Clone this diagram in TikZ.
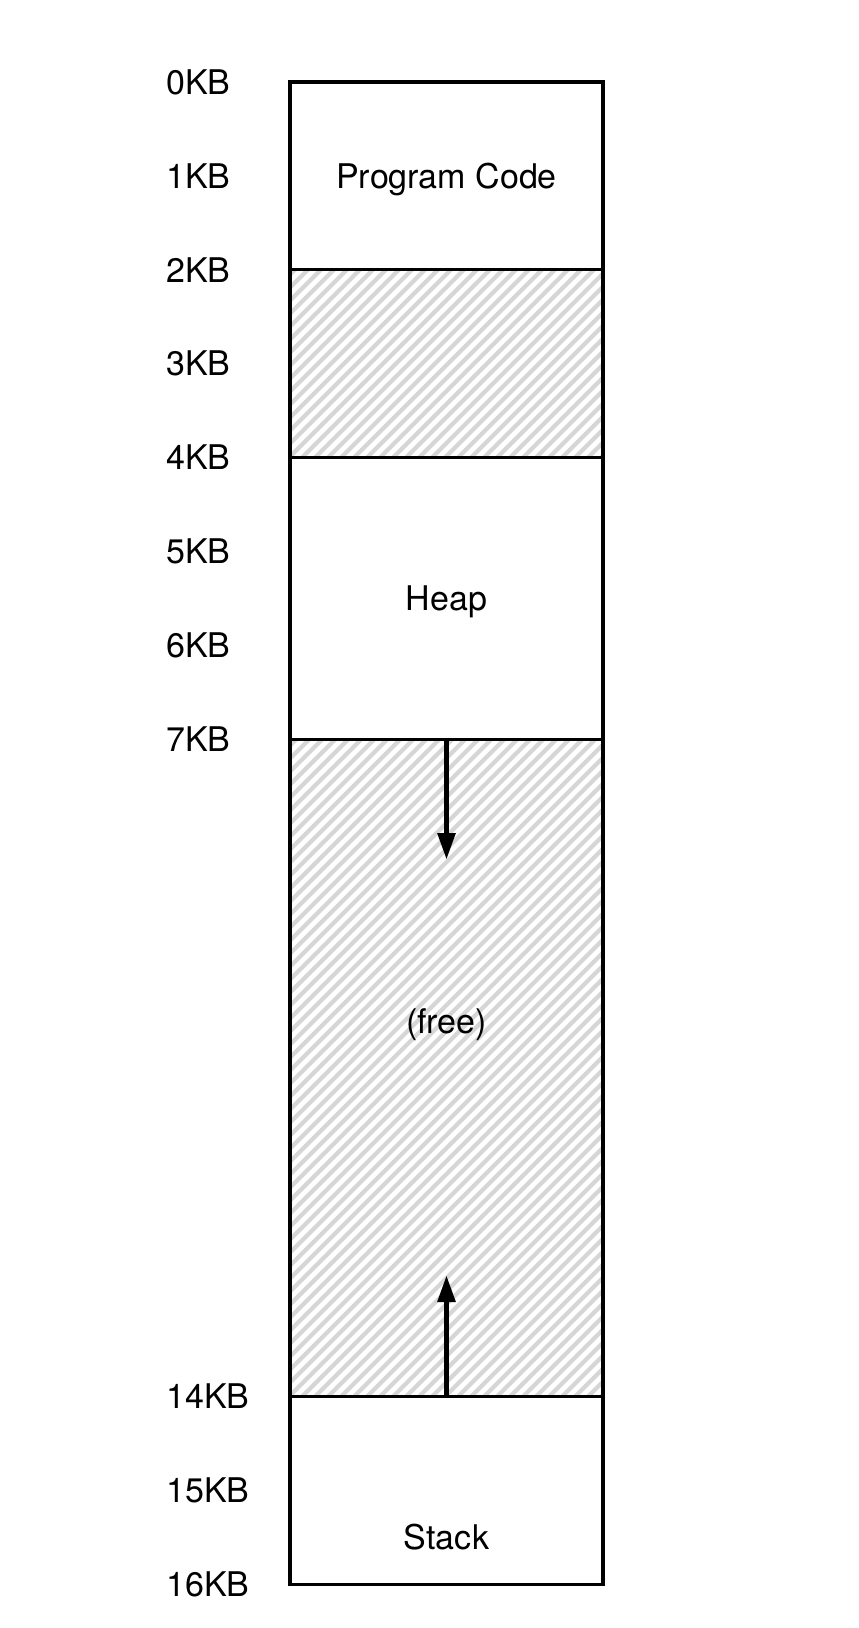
\documentclass[tikz,border=0pt]{standalone}
\usepackage{fontspec}
\newfontfamily\helv{TeX Gyre Heros}
\usetikzlibrary{arrows.meta}
\tikzset{
    kbtext/.style={inner sep=0pt, text height=12.2pt, text depth=0pt,
        font=\helv\fontsize{17}{20}\selectfont},
    kblabel/.style={kbtext, anchor=west},
    wall/.style={line width=1.65pt},
    hatchline/.style={line width=2.1pt, black!16},
    growarrow/.style={line width=2.8pt, -{Triangle[length=13.5pt,width=8.5pt]}}
}
\begin{document}
\begin{tikzpicture}[x=0.5pt,y=-0.5pt]
        \useasboundingbox (0,0) rectangle (858,1628);
        %% free regions
        \foreach \ya/\yb in {2/4,7/14}{
            \begin{scope}
                \clip (290,{82+\ya*93.9}) rectangle (603,{82+\yb*93.9});
                \foreach \d in {-700,-687,...,320}
                    \draw[hatchline] ({290+\d},{82+\yb*93.9+10}) -- ++(720,-720);
            \end{scope}
        }
        %% address space
        \draw[wall] (290,82) rectangle (603,{82+16*93.9});
        \foreach \k in {2,4,7,14}
            \draw[wall] (290,{82+\k*93.9}) -- (603,{82+\k*93.9});
        %% addresses
        \foreach \k in {0,1,2,3,4,5,6,7,14,15,16}
            \node[kblabel] (kb\k) at (166,{82+\k*93.9}) {\k KB};
        %% segments
        \node[kbtext] (code) at (446.5,{82+1*93.9}) {Program Code};
        \node[kbtext] (heap) at (446.5,{82+5.5*93.9}) {Heap};
        \node[kbtext] (free) at (446.5,{82+10*93.9}) {(free)};
        \node[kbtext] (stack) at (446.5,{82+15.5*93.9}) {Stack};
        %% growth
        \coordinate (heapend) at (446.5,{82+7*93.9});
        \coordinate (heaptip) at (446.5,860);
        \coordinate (stackend) at (446.5,{82+14*93.9});
        \coordinate (stacktip) at (446.5,1275);
        \draw[growarrow] (heapend) -- (heaptip);
        \draw[growarrow] (stackend) -- (stacktip);
\end{tikzpicture}
\end{document}
